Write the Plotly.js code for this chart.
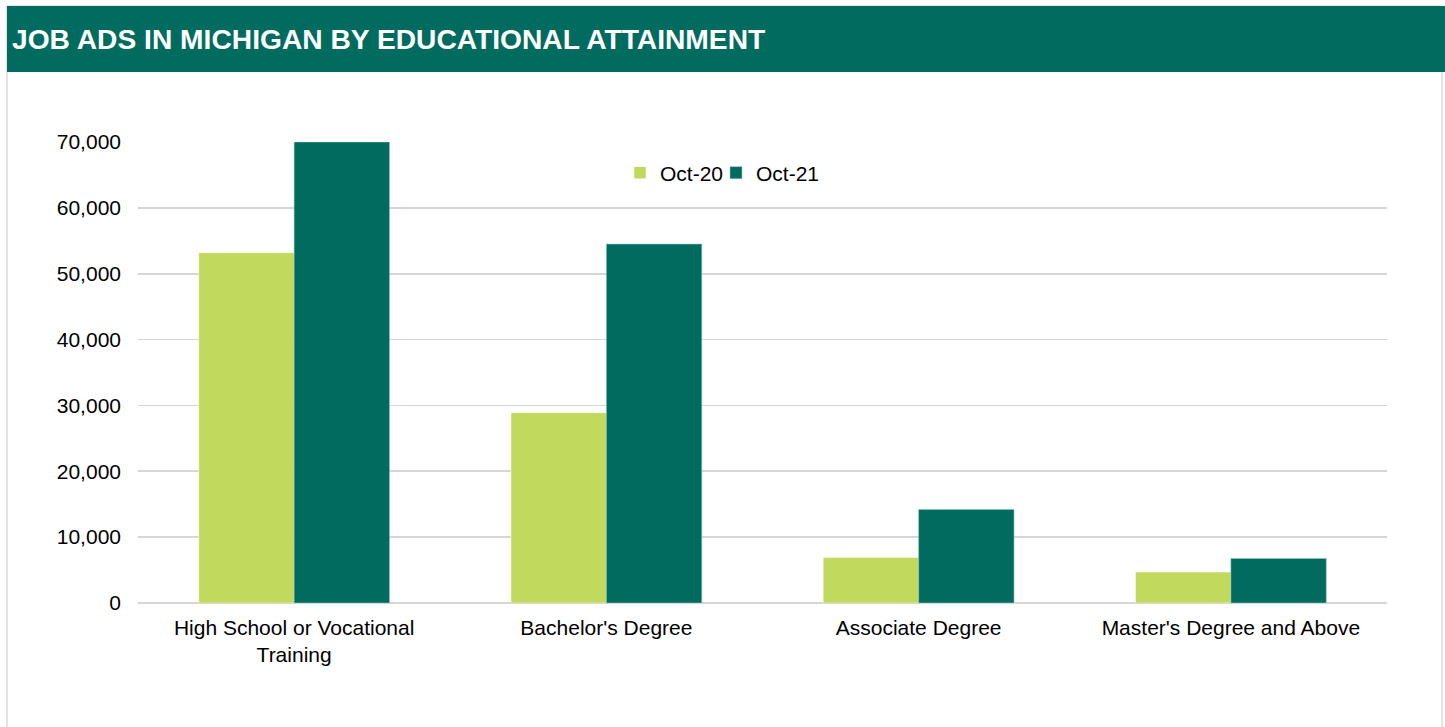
<!DOCTYPE html>
<html>
<head>
<meta charset="utf-8">
<script src="https://cdn.plot.ly/plotly-3.0.1.min.js"></script>
<style>html,body{margin:0;padding:0;background:#fff;}#chart{width:1445px;height:727px;}</style>
</head>
<body>
<div id="chart"></div>
<script>
const categories = ["High School or Vocational<br>Training", "Bachelor's Degree", "Associate Degree", "Master's Degree and Above"];
const seriesNames = ["Oct-20", "Oct-21"];
const oct20 = [53200, 28900, 6900, 4700];
const oct21 = [70000, 54500, 14200, 6750];
const yTicks = [0, 10000, 20000, 30000, 40000, 50000, 60000, 70000];
const chartTitle = "JOB ADS IN MICHIGAN BY EDUCATIONAL ATTAINMENT";

const W = 1445, H = 727;
const teal = "rgb(0,107,94)";
const lime = "rgb(193,217,92)";
const font = "Liberation Sans, Arial, sans-serif";

const traces = [
  {type: "bar", name: seriesNames[0], x: categories, y: oct20, legend: "legend",
   marker: {color: lime, line: {color: "rgba(255,255,255,0.6)", width: 0.8}}, hoverinfo: "y"},
  {type: "bar", name: seriesNames[1], x: categories, y: oct21, legend: "legend2",
   marker: {color: teal, line: {color: "rgba(140,200,190,0.7)", width: 0.8}}, hoverinfo: "y"}
];

const legendBase = {orientation: "h", xanchor: "left", y: 1 - 173 / H, yanchor: "middle",
                    font: {size: 21, color: "#000"}, bgcolor: "rgba(0,0,0,0)"};

const layout = {
  width: W, height: H,
  margin: {l: 0, r: 0, t: 0, b: 0},
  paper_bgcolor: "#fff", plot_bgcolor: "#fff",
  barmode: "group", bargap: 0.389, bargroupgap: 0,
  font: {family: font, size: 21, color: "#000"},
  showlegend: true,
  title: {text: chartTitle, x: 12 / W, xanchor: "left", xref: "paper",
          y: 1 - 39 / H, yanchor: "middle", yref: "paper",
          font: {family: font, size: 28.2, color: "#fff", weight: 700}},
  xaxis: {domain: [138 / W, 1387 / W], showgrid: false, zeroline: false, showline: false,
          ticks: "", ticklabelstandoff: 10, tickfont: {size: 21, color: "#000"}, automargin: false, fixedrange: true},
  yaxis: {domain: [1 - 603 / H, 1 - 142 / H], range: [0, 70000], tickvals: yTicks, tickformat: ",d",
          showgrid: true, gridcolor: "#d6d6d6", gridwidth: 1.6, zeroline: true, zerolinecolor: "#d6d6d6", zerolinewidth: 1.6,
          showline: false, ticks: "", ticklabelstandoff: 16, tickfont: {size: 21, color: "#000"}, automargin: false, fixedrange: true},
  legend: Object.assign({}, legendBase, {x: 620 / W}),
  legend2: Object.assign({}, legendBase, {x: 716 / W}),
  shapes: [
    {type: "rect", xref: "paper", yref: "paper", x0: 7 / W, x1: 1442 / W, y0: -0.01, y1: 1 - 6 / H,
     line: {color: "#c8c8c8", width: 1}, fillcolor: "rgba(0,0,0,0)", layer: "below"},
    {type: "rect", xref: "paper", yref: "paper", x0: 7 / W, x1: 1.01, y0: 1 - 72 / H, y1: 1 - 6 / H,
     line: {width: 0}, fillcolor: teal, layer: "below"}
  ]
};

Plotly.newPlot("chart", traces, layout, {displayModeBar: false, staticPlot: true});
</script>
</body>
</html>
